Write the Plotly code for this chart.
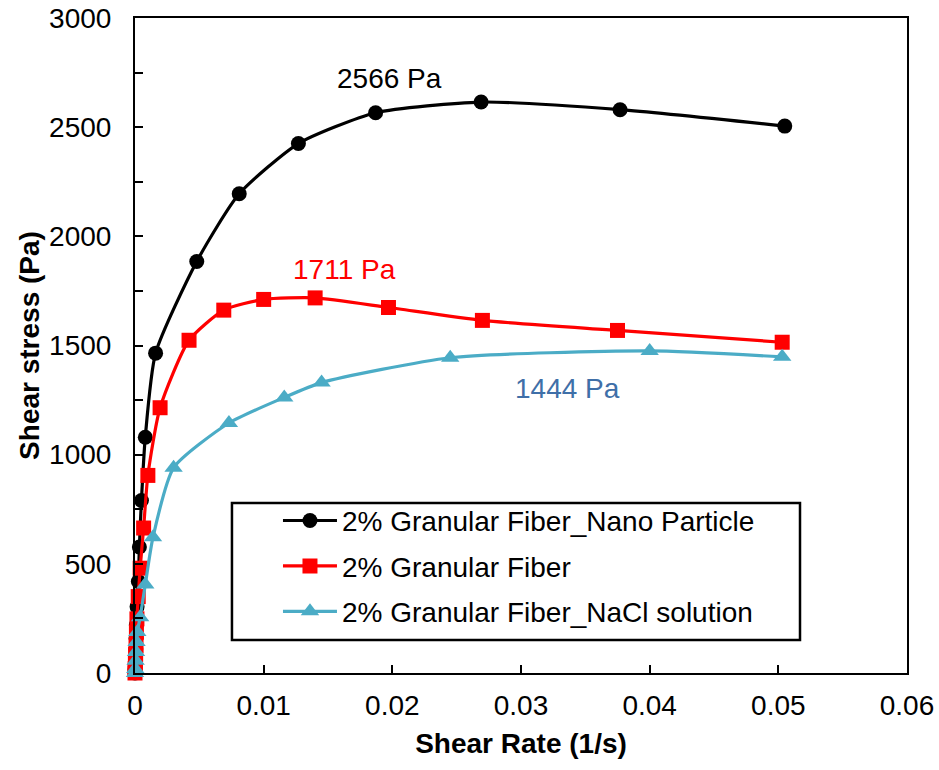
import plotly.graph_objects as go

# Black: 2% Granular Fiber_Nano Particle
x_nano = [0, 0, 0.00002, 0.00004, 0.00006, 0.00008, 0.0001, 0.00016, 0.00026, 0.00034, 0.0005, 0.0008, 0.0016, 0.0048, 0.0081, 0.0127, 0.0187, 0.0269, 0.0377, 0.0505]
y_nano = [0, 15, 40, 70, 110, 160, 220, 303, 419, 577, 790, 1080, 1465, 1885, 2195, 2425, 2566, 2615, 2580, 2505]

# Red: 2% Granular Fiber
x_gf = [0, 0.00001, 0.00003, 0.00005, 0.00008, 0.00011, 0.00015, 0.00025, 0.0004, 0.00067, 0.001, 0.00195, 0.0042, 0.0069, 0.0100, 0.0140, 0.0197, 0.0270, 0.0375, 0.0503]
y_gf = [0, 20, 50, 85, 125, 187, 248, 350, 480, 664, 905, 1215, 1524, 1662, 1711, 1718, 1674, 1615, 1569, 1515]

# Teal: 2% Granular Fiber_NaCl solution
x_nacl = [0, 0.00002, 0.00005, 0.00008, 0.00012, 0.00018, 0.0004, 0.0008, 0.0014, 0.0030, 0.0073, 0.0116, 0.0145, 0.0245, 0.0400, 0.0503]
y_nacl = [0, 18, 56, 96, 142, 188, 255, 405, 622, 940, 1145, 1262, 1330, 1444, 1475, 1448]

names = ["2% Granular Fiber_Nano Particle", "2% Granular Fiber", "2% Granular Fiber_NaCl solution"]
colors = ["#000000", "#FF0000", "#4BACC6"]
symbols = ["circle", "square", "triangle-up"]

ann_text = ["2566 Pa", "1711 Pa", "1444 Pa"]
ann_x = [0.0198, 0.0163, 0.0336]
ann_y = [2725, 1846, 1305]
ann_color = ["#000000", "#FF0000", "#3F6FA8"]

FONT = "Liberation Sans"
FS = 28

fig = go.Figure()
for i, (xs, ys, n, c, s, ms) in enumerate(zip([x_nano, x_gf, x_nacl], [y_nano, y_gf, y_nacl], names, colors, symbols, [15, 15, 16])):
    fig.add_trace(go.Scatter(
        x=xs, y=ys, name=n, mode="lines+markers", legendgroup=f"g{i}",
        cliponaxis=False,
        line=dict(color=c, width=3.2, shape="spline", smoothing=0.6),
        marker=dict(color=c, symbol=s, size=ms),
    ))

for t, ax_, ay_, c in zip(ann_text, ann_x, ann_y, ann_color):
    fig.add_annotation(x=ax_, y=ay_, text=t, showarrow=False,
                       font=dict(family=FONT, size=FS, color=c))

# legend frame
fig.add_shape(type="rect", xref="paper", yref="paper",
              x0=0.1256, x1=0.8614, y0=0.0504, y1=0.2595,
              line=dict(color="black", width=2.5), fillcolor="rgba(0,0,0,0)")

fig.update_layout(
    width=939, height=770,
    margin=dict(l=135, r=32, t=18, b=97),
    plot_bgcolor="white", paper_bgcolor="white",
    font=dict(family=FONT, size=FS, color="black"),
    showlegend=True,
    legend=dict(
        x=0.1852, y=0.2705, xanchor="left", yanchor="top",
        bgcolor="rgba(0,0,0,0)", borderwidth=0,
        font=dict(family=FONT, size=FS, color="black"),
        tracegroupgap=6, itemwidth=54,
    ),
    xaxis=dict(
        range=[0, 0.06], dtick=0.01, tick0=0, automargin=False,
        showgrid=False, zeroline=False,
        showline=True, linecolor="black", linewidth=2, mirror=True,
        ticks="inside", ticklen=8, tickwidth=1.5, tickcolor="black",
        ticklabelstandoff=6,
        tickfont=dict(family=FONT, size=FS),
        title=dict(text="<b>Shear Rate (1/s)</b>", font=dict(family=FONT, size=FS), standoff=14),
    ),
    yaxis=dict(
        range=[0, 3000], dtick=500, tick0=0, automargin=False,
        showgrid=False, zeroline=False,
        showline=True, linecolor="black", linewidth=2, mirror=True,
        ticks="inside", ticklen=8, tickwidth=1.5, tickcolor="black",
        minor=dict(dtick=250, ticks="inside", ticklen=8, tickcolor="black", tickwidth=1.5),
        ticklabelstandoff=16,
        tickfont=dict(family=FONT, size=FS),
        title=dict(text="<b>Shear stress (Pa)</b>", font=dict(family=FONT, size=FS), standoff=1),
    ),
)

fig.write_html("out.html")
